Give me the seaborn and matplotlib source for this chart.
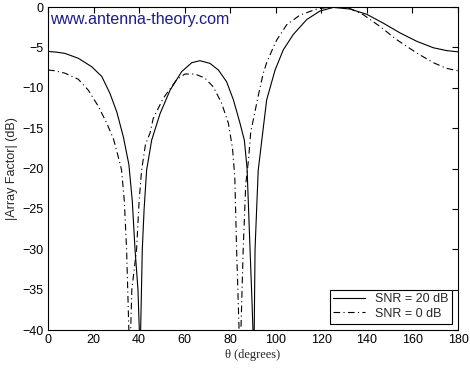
import numpy as np
import pandas as pd
import matplotlib
matplotlib.use("Agg")
import matplotlib.pyplot as plt
import seaborn as sns

# values
theta_20 = [0, 4, 7.5, 13.3, 19.2, 23.6, 27.2, 30.2, 33.1, 35.5, 37, 38.2, 39.5,
            40.2, 40.6, 41.4, 42.2, 43.3, 45.5, 49.2, 53.6, 58.7, 63.1, 66.7,
            71.1, 74.8, 78.4, 81.4, 84.3, 86.2, 87.4, 88.7, 89.5, 90.1, 90.5,
            90.9, 91.6, 92.3, 94.5, 96, 99.7, 103.3, 107.7, 113.6, 119.4, 125.3,
            132.6, 139.9, 147.2, 154.5, 161.9, 169.2, 175, 180]
af_20 = [-5.5, -5.6, -5.75, -6.35, -7.4, -8.6, -10.7, -13.0, -16.1, -19.5, -24,
         -30, -35, -41, -41, -30, -25, -20.2, -16.5, -13.2, -10.3, -8.0, -6.9,
         -6.65, -6.98, -7.8, -9.25, -11.5, -14.4, -16.5, -20, -30, -36, -41, -41,
         -30, -25, -20.2, -15, -11.5, -7.8, -5.3, -3.4, -1.55, -0.5, -0.05,
         -0.25, -0.9, -2.0, -3.2, -4.25, -5.05, -5.4, -5.55]

theta_0 = [0, 3, 7.5, 13.3, 17.7, 22.1, 25.8, 28.7, 30.8, 32.3, 33.5, 34.5, 35.6,
           36.2, 36.8, 38.9, 40, 41.1, 42.8, 44.8, 46.2, 50.6, 56.5, 60.1, 64.5,
           68.9, 72.6, 76.2, 79.2, 81, 82, 82.8, 84, 84.6, 85.7, 86.8, 88, 89,
           92.3, 94.5, 96, 98.9, 100.4, 104.8, 110.6, 118, 124, 128, 132.6,
           138.4, 145.7, 153.1, 161.9, 169.2, 175, 180]
af_0 = [-7.8, -7.9, -8.2, -8.95, -10.3, -12.3, -14.4, -16.3, -18.5, -20.2, -24,
        -30, -41, -41, -35, -30, -24, -20.2, -17, -15.6, -13.8, -11.3, -9.0, -8.3,
        -8.3, -8.8, -9.9, -11.9, -14.4, -17.5, -21, -30, -41, -41, -30, -22, -19,
        -15.5, -11, -8.2, -6.9, -5.0, -4.1, -2.2, -1.0, -0.25, 0.0, 0.0, -0.2,
        -0.95, -2.4, -4.05, -5.7, -6.9, -7.6, -7.9]

sns.set_style("white")
plt.rcParams["font.family"] = ["Liberation Sans", "DejaVu Sans"]

fig = plt.figure(figsize=(4.7, 3.69), dpi=100)
ax = fig.add_axes([48 / 470, 1 - 330 / 369, 410 / 470, 323 / 369])

sns.lineplot(x=theta_20, y=af_20, ax=ax, color="black", lw=0.8,
             label="SNR = 20 dB", sort=False)
sns.lineplot(x=theta_0, y=af_0, ax=ax, color="black", lw=0.8,
             linestyle=(0, (6, 3, 1, 3)), label="SNR = 0 dB", sort=False)

ax.set_xlim(0, 180)
ax.set_ylim(-40, 0)
ax.set_xticks(np.arange(0, 181, 20))
ax.set_yticks(np.arange(-40, 1, 5))
ax.tick_params(direction="in", length=4, width=0.8, top=True, right=True,
               labelsize=9, pad=3, colors="black")
for s in ax.spines.values():
    s.set_color("black")
    s.set_linewidth(0.8)

ax.set_xlabel("θ (degrees)", fontsize=9, family=["Liberation Serif", "DejaVu Serif"],
              labelpad=2)
ax.set_ylabel("|Array Factor| (dB)", fontsize=9, labelpad=3)

ax.text(0.005, 0.985, "www.antenna-theory.com", transform=ax.transAxes,
        ha="left", va="top", fontsize=11.5, color="#1c1c8c")

leg = ax.legend(loc="lower right", bbox_to_anchor=(0.985, 0.02),
                borderaxespad=0, fancybox=False, framealpha=1,
                edgecolor="black", fontsize=9, handlelength=2.5,
                borderpad=0.3, labelspacing=0.2)
leg.get_frame().set_linewidth(0.8)

fig.savefig("out.png", dpi=100)
